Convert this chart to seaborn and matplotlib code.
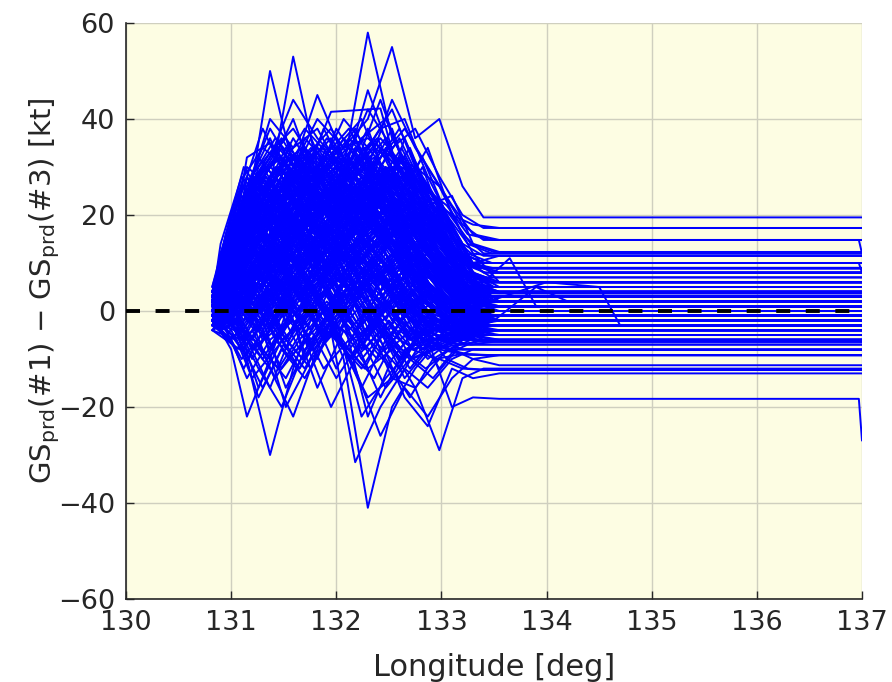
import numpy as np
import pandas as pd
import matplotlib
matplotlib.use("Agg")
import matplotlib.pyplot as plt
import seaborn as sns

# Longitude sample points (deg) shared by the flights of each group
lon_a = [130.82, 131.0, 131.15, 131.37, 131.59, 131.82, 132.07, 132.3, 132.53, 132.75, 132.98, 133.2, 133.4, 137.0]
lon_b = [130.82, 131.08, 131.26, 131.48, 131.7, 131.95, 132.18, 132.42, 132.65, 132.87, 133.1, 133.3, 133.55, 137.0]
lon_c = [130.82, 130.95, 131.12, 131.3, 131.52, 131.76, 132.0, 132.24, 132.47, 132.7, 132.92, 133.15, 133.35, 137.0]
lon_d = [130.82, 131.05, 131.2, 131.42, 131.65, 131.88, 132.12, 132.36, 132.6, 132.82, 133.05, 133.25, 133.48, 137.0]
lon_e = [130.82, 130.9, 131.1, 131.33, 131.55, 131.79, 132.03, 132.27, 132.5, 132.72, 132.95, 133.18, 133.42, 137.0]
lon_f = [130.82, 131.03, 131.22, 131.45, 131.68, 131.91, 132.15, 132.39, 132.62, 132.85, 133.08, 133.28, 133.5, 137.0]

# GS_prd(#1) - GS_prd(#3) [kt] per flight
dgs_a = [
    [2, 12, 32, 35, 28, 22, 18, 25, 15, 10, 6, 3, 2, 2],
    [0, 10, 20, 50, 30, 24, 20, 18, 22, 12, 8, 4, 1, 1],
    [3, 8, 18, 26, 53, 30, 26, 22, 28, 20, 14, 8, 5, 5],
    [-2, 6, 15, 24, 30, 45, 32, 28, 24, 18, 12, 6, 3, 3],
    [1, 9, 22, 30, 26, 34, 30, 58, 36, 28, 20, 12, 8, 8],
    [4, 14, 25, 33, 38, 30, 34, 40, 55, 36, 40, 26, 19.5, 19.5],
    [-1, -8, -22, -10, 4, 10, 6, 2, -5, -8, -4, -2, -1, -1],
    [0, -4, -10, -30, -12, 2, 8, 4, 0, -6, -3, -5, -4, -4],
    [2, -3, -6, -12, -22, -8, 4, 10, 6, 2, -2, 0, 1, 1],
    [-3, -6, -2, 6, 12, 4, -10, -41, -20, -12, -6, -4, -3, -3],
    [1, 4, 8, 14, 10, 2, -8, -18, -14, -16, -29, -14, -12, -12],
    [5, 18, 28, 20, 32, 26, 36, 30, 44, 34, 26, 16, 12, 12],
    [3, 16, 24, 40, 34, 38, 28, 46, 32, 30, 22, 12, 10, 10],
    [-4, 2, 14, 22, 18, 26, 20, 24, 30, 22, 16, 8, 4, 4],
    [2, 6, 10, 18, 26, 20, 30, 22, 26, 30, 18, 9, 6, 6],
    [0, 12, 20, 12, 22, 16, 24, 34, 28, 24, 22, 14, 11.5, 11.5],
    [-2, 4, 6, 10, 14, 24, 18, 20, 16, 26, 12, 4, 0, 0],
    [1, 8, 16, 24, 20, 12, 14, 18, 12, 8, 10, 2, -2, -2],
    [4, 10, 28, 18, 14, 20, 26, 16, 20, 14, 6, 0, -3, -3],
    [-1, 2, 4, 8, 2, 6, 12, 8, 4, 10, 2, -4, -6, -6],
    [3, 14, 26, 36, 24, 32, 22, 28, 38, 24, 18, 10, 8.9, 8.9],
    [0, 6, 12, 16, 8, 14, 22, 12, 18, 6, 2, -1, 0, 0],
    [2, 8, 20, 14, 28, 18, 10, 20, 14, 16, 8, 3, 2, 2],
    [-3, 0, 8, 2, 10, 4, 16, 6, 10, 0, -6, -8, -8, -8],
    [1, 4, 2, -4, 6, 12, 2, 10, -2, 4, -4, -6, -5, -5],
    [-2, -6, -14, -6, -2, -16, -4, -12, -8, -16, -10, -12, -12.3, -12.3],
    [0, 10, 18, 28, 32, 22, 28, 38, 24, 20, 12, 6, 3.7, 3.7],
    [2, -2, 4, 12, 6, -4, 2, -6, 4, -2, -8, -9, -9.2, -9.2],
    [4, 12, 22, 30, 40, 26, 32, 20, 30, 18, 14, 6, 4, 4],
    [-1, 6, 16, 8, 20, 30, 14, 24, 8, 12, 4, 0, 1, 1],
    [1, 2, -6, -16, -4, 8, -2, -22, -10, -4, -12, -6, -3, -3],
    [3, 18, 24, 32, 44, 36, 30, 42, 34, 38, 28, 20, 17.3, 17.3],
    [0, 4, 12, 20, 10, 18, 8, 14, 20, 8, 6, 2, 0, 0],
    [-4, -2, 2, -8, 0, -10, 6, -2, -14, -6, -2, -4, -2, -2],
    [2, 8, 14, 22, 28, 34, 26, 20, 24, 14, 10, 4, 2, 2],
    [1, 16, 26, 38, 30, 40, 34, 36, 32, 26, 20, 12, 10, 10],
    [-2, 4, 10, 4, 16, 10, 20, 14, 8, 14, 4, -2, -4, -4],
    [3, 10, 6, 14, 24, 18, 12, 26, 18, 10, 0, -5, -6.4, -6.4],
    [0, 2, 8, 16, 12, 22, 16, 30, 22, 18, 8, 2, -1, -1],
]
dgs_b = [
    [2, 16, 30, 36, 28, 41.5, 41.8, 42.2, 24, 18, 10, 6, 4, 4],
    [0, 8, 22, 30, 38, 32, 20, 30, 26, 34, 20, 12, 6, 6],
    [-2, -6, -18, -8, -14, -4, -31.5, -20, -12, -16, -10, -8, -8.1, -8.1],
    [1, 4, 12, 26, 34, 22, 30, 38, 40, 28, 18, 8, 5, 5],
    [3, 12, 20, 14, 24, 30, 24, 20, 36, 24, 14, 6, 2, 2],
    [-1, 2, -4, 6, -10, -2, 8, -6, -18, -24, -12, -14, -13, -13],
    [4, 18, 26, 34, 26, 30, 38, 26, 30, 20, 16, 8, 6, 6],
    [0, 6, 16, 22, 14, 8, 18, 24, 16, 12, 6, 2, 1, 1],
    [2, 10, 8, 18, 24, 16, 28, 18, 10, 16, 8, 0, -2, -2],
    [-3, -2, 6, 0, 12, 2, 10, 14, 4, -4, -2, -3, -3, -3],
    [1, 14, 28, 22, 32, 38, 30, 44, 30, 22, 24, 14, 12.3, 12.3],
    [0, 4, 10, 16, 6, 14, 4, 8, 12, 2, -2, -4, -5, -5],
    [2, 12, 24, 18, 26, 20, 34, 28, 20, 14, 6, 3, 3, 3],
    [-4, -8, -2, -12, -6, -20, -10, -4, -14, -8, -6, -5, -4, -4],
    [3, 16, 22, 30, 22, 26, 20, 30, 24, 18, 12, 10, 11.5, 11.5],
    [1, 6, 18, 10, 20, 12, 22, 16, 26, 16, 8, 2, 0, 0],
    [-1, 4, 2, 10, 4, 18, 10, 4, 10, 4, 0, -2, -1, -1],
    [2, 10, 20, 28, 18, 24, 16, 22, 14, 20, 10, 4, 2, 2],
    [0, -4, -12, -20, -8, -2, -12, -26, -16, -22, -14, -10, -11.3, -11.3],
    [4, 20, 32, 26, 30, 36, 28, 32, 38, 30, 22, 16, 14.8, 14.8],
    [1, 8, 14, 8, 16, 22, 14, 18, 10, 6, 2, 1, 2, 2],
    [-2, 0, 8, 14, 6, 10, 2, 12, 6, 0, -4, -6, -6, -6],
    [3, 14, 20, 26, 34, 28, 24, 34, 28, 26, 16, 10, 8, 8],
    [0, 2, 10, 4, 12, 20, 12, 6, 16, 8, 2, -1, -2, -2],
    [2, 12, 18, 24, 30, 20, 26, 20, 22, 14, 10, 6, 4, 4],
    [1, 6, 4, 12, 20, 14, 8, 16, 8, 12, 4, 0, 0, 0],
    [-2, 2, 12, 18, 10, 16, 20, 10, 14, 6, 0, -3, -4, -4],
    [0, 6, 2, -6, -2, 6, -4, 2, -4, -10, -6, -3, -2, -2],
    [2, 10, 16, 28, 20, 14, 22, 28, 18, 16, 8, 4, 3.7, 3.7],
    [-3, 4, 14, 8, 2, 10, 18, 8, 2, -2, -4, -5, -6, -6],
    [1, 12, 22, 18, 28, 22, 14, 24, 20, 10, 6, 2, 1, 1],
    [3, 8, 18, 28, 24, 32, 26, 22, 26, 20, 14, 8, 6, 6],
    [-1, 0, 6, 12, 18, 8, 14, 20, 8, 4, -2, -3, -3, -3],
    [0, 10, 24, 16, 22, 14, 24, 14, 18, 8, 4, 0, -1, -1],
    [2, 14, 8, 20, 14, 28, 20, 12, 22, 12, 6, 2, 1, 1],
    [-2, 2, -2, 4, 14, 4, -4, 6, 0, -6, -8, -10, -9.2, -9.2],
    [4, 18, 28, 32, 26, 34, 30, 36, 30, 24, 20, 18, 17.3, 17.3],
    [0, 6, 12, 20, 28, 18, 24, 16, 12, 10, 4, 0, 1, 1],
]
dgs_c = [
    [0, 6, 14, 4, -6, 2, 10, -2, 6, -4, 0, -2, -1, -1],
    [-2, -6, 2, 10, 0, -8, 4, 12, 2, -6, -2, -4, -3, -3],
    [1, 10, 24, 30, 22, 28, 34, 26, 30, 22, 14, 6, 3, 3],
    [3, 4, -4, -10, -2, 6, -6, -12, -4, 2, -4, -2, 0, 0],
    [-1, 2, 8, 18, 28, 20, 12, 22, 32, 24, 10, 2, -1, -1],
    [2, 8, 2, 12, 4, -4, 8, 0, -8, -2, 2, -1, -2, -2],
    [0, 12, 28, 34, 30, 24, 38, 30, 26, 34, 22, 10, 5, 5],
    [4, 0, -8, -2, -16, -6, 2, -10, -4, -12, -6, -4, -4, -4],
    [-3, 4, 16, 22, 14, 30, 22, 18, 28, 16, 8, 2, 2, 2],
    [1, -2, 6, 0, 8, -2, 14, 6, -2, 8, 0, -3, -5, -5],
    [2, 14, 20, 12, 26, 36, 24, 32, 20, 26, 18, 8, 6, 6],
    [-1, -4, -12, -4, -20, -10, -4, -16, -6, -10, -14, -8, -6, -6],
    [0, 6, 12, 24, 16, 10, 20, 28, 14, 20, 12, 4, 1, 1],
    [3, 2, 10, 2, -6, 4, -4, 6, -6, 0, -2, -2, -1, -1],
    [-2, 8, 18, 10, 20, 14, 26, 18, 24, 12, 6, 0, -2, -2],
    [1, 4, -2, 8, 14, 6, -2, 4, 12, 2, -4, -5, -4, -4],
    [2, 16, 26, 38, 28, 34, 26, 36, 40, 28, 24, 12, 7, 7],
    [0, -6, -4, 4, -8, 0, -12, -2, 6, -4, -8, -6, -5, -5],
    [-1, 10, 20, 16, 24, 18, 10, 16, 22, 14, 4, 0, 0, 0],
    [4, 6, 16, 26, 20, 26, 32, 22, 16, 18, 10, 4, 3, 3],
    [0, 2, -6, 2, 10, 0, 6, -8, 2, -6, -4, -3, -2, -2],
    [2, 12, 8, 16, 10, 22, 16, 10, 18, 6, 2, 1, 1, 1],
    [-3, -2, 4, -6, 2, -4, -14, -6, -16, -10, -8, -7, -7, -7],
    [1, 8, 22, 30, 36, 26, 30, 24, 34, 26, 18, 12, 9, 9],
    [0, 4, 12, 6, 14, 20, 6, 12, 4, 10, 2, -2, -3, -3],
    [3, 10, 4, -4, 4, 12, 20, 8, 0, 6, 0, 1, 2, 2],
    [-2, 2, 10, 16, 8, 2, -6, 4, 10, -2, -6, -4, -4, -4],
    [1, 14, 24, 20, 30, 24, 34, 40, 28, 22, 16, 8, 5, 5],
    [0, -2, 2, -8, -14, -4, 4, -4, -10, -18, -10, -7, -6.4, -6.4],
    [2, 6, 16, 10, 18, 28, 18, 24, 14, 16, 8, 3, 2, 2],
    [-1, 4, 0, 6, -2, 8, 2, -6, 4, -2, -2, -1, 0, 0],
    [3, 12, 22, 28, 20, 16, 26, 20, 30, 20, 12, 6, 4, 4],
    [0, 0, -8, -16, -6, -12, -2, -22, -14, -8, -4, -3, -3, -3],
    [1, 8, 14, 20, 26, 32, 24, 16, 22, 12, 6, 1, 0, 0],
    [-2, 2, 6, 0, 8, 4, 12, 2, -6, 0, -4, -5, -6, -6],
    [2, 10, 18, 26, 16, 24, 18, 28, 24, 30, 20, 10, 6, 6],
    [0, -4, 4, 10, 2, -6, -2, 8, -4, -10, -6, -4, -2, -2],
    [4, 16, 30, 24, 34, 28, 22, 30, 36, 24, 16, 10, 8.9, 8.9],
    [-1, 2, 12, 6, 0, 10, 4, 14, 6, 2, -2, -2, -1, -1],
    [1, 6, 10, 16, 22, 12, 18, 10, 16, 8, 2, 0, 1, 1],
]
dgs_d = [
    [0, 8, 18, 12, 22, 30, 20, 26, 16, 12, 6, 2, 1, 1],
    [-3, 0, -6, 4, -4, 2, -10, -2, -8, -2, -4, -5, -5, -5],
    [2, 14, 26, 32, 24, 38, 28, 34, 30, 22, 18, 10, 7, 7],
    [1, 4, 10, 2, 12, 6, 16, 8, 2, 8, 0, -2, -3, -3],
    [-2, -8, -4, -14, -6, 0, -8, -14, -4, -8, -6, -4, -3, -3],
    [3, 10, 22, 16, 28, 22, 32, 24, 20, 26, 14, 6, 3, 3],
    [0, 2, 8, 14, 6, 18, 10, 4, 14, 6, 0, -1, 0, 0],
    [1, 12, 16, 24, 32, 26, 20, 30, 38, 28, 20, 14, 12, 12],
    [-1, -2, 6, -2, 4, -6, 2, 10, 0, -8, -4, -3, -2, -2],
    [2, 6, 14, 22, 16, 10, 18, 12, 20, 10, 4, 2, 2, 2],
    [0, 16, 28, 22, 30, 34, 26, 22, 28, 18, 12, 5, 4, 4],
    [-4, -6, -14, -8, -2, -12, -6, 0, -10, -4, -8, -9, -9.2, -9.2],
    [2, 4, 0, 8, 16, 10, 4, 12, 6, 14, 6, 0, -1, -1],
    [1, 10, 20, 28, 22, 16, 28, 32, 24, 16, 10, 4, 2, 2],
    [-1, 2, 10, 4, -4, 6, 14, 6, -2, 4, -2, -4, -4, -4],
    [3, 14, 24, 18, 26, 32, 38, 28, 22, 30, 16, 8, 6, 6],
    [0, -2, 4, 12, 4, -2, 8, -4, 2, -6, -2, -2, -1, -1],
    [2, 8, 16, 10, 20, 14, 24, 18, 12, 20, 8, 3, 1, 1],
    [-2, 0, -8, -4, -12, -2, 4, -6, -12, -4, -10, -12, -12.3, -12.3],
    [1, 12, 22, 30, 26, 20, 30, 22, 32, 22, 14, 8, 5, 5],
    [0, 4, 12, 6, 14, 8, 2, 10, 18, 6, 0, -2, -2, -2],
    [3, 8, 4, 12, 2, 10, 18, 12, 6, 12, 4, 0, 0, 0],
    [-1, 6, 18, 26, 34, 24, 18, 26, 20, 14, 8, 2, 1, 1],
    [1, -4, -10, -2, 6, -4, -8, -2, 4, -6, -6, -5, -4, -4],
    [2, 10, 20, 14, 24, 28, 22, 18, 26, 18, 10, 4, 3, 3],
    [0, 6, 2, -4, 8, 14, 4, 10, 2, 6, 2, -1, -1, -1],
    [-2, 4, 14, 20, 12, 22, 14, 24, 16, 10, 4, -2, -3, -3],
    [4, 18, 28, 36, 30, 26, 34, 28, 36, 26, 22, 16, 14.8, 14.8],
    [0, 2, 6, 12, 18, 8, 12, 20, 12, 4, 0, -3, -5, -5],
    [1, 8, 0, 6, -2, 4, -4, 2, -6, -2, -2, 0, 0, 0],
    [-1, 10, 22, 16, 20, 28, 20, 14, 22, 16, 6, 2, 2, 2],
    [2, 0, 4, -6, -12, -4, 2, -8, -14, -6, -8, -8, -8, -8],
    [1, 14, 20, 26, 18, 24, 30, 36, 26, 20, 14, 6, 4, 4],
    [0, 4, 8, 14, 10, 18, 12, 6, 12, 2, -2, -2, -1, -1],
    [3, 6, 14, 8, 18, 10, 16, 24, 14, 18, 8, 3, 2, 2],
    [-2, 2, -2, 6, 0, 12, 6, -2, 4, -4, -6, -6, -6, -6],
    [1, 16, 26, 34, 26, 30, 36, 30, 24, 32, 20, 12, 10, 10],
    [0, 6, 12, 8, 16, 22, 12, 18, 10, 12, 4, 0, -1, -1],
    [2, -2, -6, 2, -8, 0, -10, -4, 2, -8, -4, -4, -3, -3],
    [-1, 8, 16, 22, 28, 18, 24, 16, 20, 10, 6, 3, 3, 3],
]
dgs_e = [
    [1, 4, 14, 24, 18, 26, 14, 22, 28, 18, 10, 4, 2, 2],
    [-2, 0, 6, -4, 4, 12, 2, -6, 4, -2, -6, -4, -3, -3],
    [2, 8, 24, 18, 30, 22, 28, 20, 24, 14, 8, 3, 1, 1],
    [0, 2, -6, 4, 12, 4, -4, 6, 14, 4, 0, -2, -2, -2],
    [3, 6, 18, 28, 20, 14, 24, 30, 18, 22, 12, 6, 4, 4],
    [-1, -2, 4, 10, 0, 8, 16, 4, 10, 0, -4, -5, -5, -5],
    [1, 10, 20, 14, 24, 30, 22, 14, 20, 10, 6, 2, 1, 1],
    [0, -2, -10, -4, 2, -8, -2, 4, -8, -4, -8, -6, -4, -4],
    [2, 6, 12, 20, 28, 18, 26, 34, 24, 18, 10, 4, 2, 2],
    [-3, 0, 8, 2, 10, 18, 8, 14, 6, 12, 2, -2, -3, -3],
    [1, 8, 16, 26, 16, 22, 30, 24, 30, 24, 16, 8, 6, 6],
    [0, 4, 0, -6, 6, 0, 10, -4, 2, -6, -2, -1, 0, 0],
    [2, 12, 26, 20, 28, 34, 26, 30, 22, 16, 10, 6, 4, 4],
    [-1, 2, 10, 16, 8, 14, 4, 12, 18, 8, 2, -1, -1, -1],
    [3, 6, 2, 10, 18, 12, 20, 12, 8, 14, 6, 2, 1, 1],
    [0, -4, -2, -10, -2, 4, -6, -12, -2, -8, -6, -7, -7, -7],
    [1, 10, 22, 30, 24, 18, 28, 22, 26, 20, 12, 6, 3.7, 3.7],
    [-2, 0, 6, 12, 20, 10, 16, 8, 14, 4, -2, -4, -4, -4],
    [2, 4, 12, 6, 14, 22, 14, 20, 12, 8, 4, 1, 0, 0],
    [0, 8, 18, 24, 32, 24, 20, 28, 34, 26, 18, 10, 8, 8],
    [1, 0, -4, 2, -6, 2, 8, 0, -6, 2, -2, -3, -2, -2],
    [-1, 6, 14, 8, 16, 10, 20, 26, 16, 10, 4, 0, -1, -1],
    [3, 12, 20, 28, 22, 30, 24, 18, 26, 20, 14, 8, 6, 6],
    [0, 2, 8, 0, 6, -2, 4, 12, 4, -2, -4, -3, -2, -2],
    [2, 10, 16, 22, 14, 20, 12, 20, 14, 22, 12, 4, 2, 2],
    [-2, -4, 2, 8, -2, -8, 0, -6, 2, -8, -10, -9, -9.2, -9.2],
    [1, 8, 20, 14, 22, 26, 18, 24, 18, 12, 6, 2, 1, 1],
    [0, 4, 10, 18, 10, 4, 14, 8, 16, 6, 0, -2, -2, -2],
    [2, 14, 28, 22, 34, 28, 32, 26, 30, 24, 16, 10, 8.9, 8.9],
    [-1, 0, -6, -2, 8, 2, -4, 2, -4, 4, -2, -1, 0, 0],
    [1, 6, 16, 12, 20, 16, 24, 16, 22, 14, 8, 3, 2, 2],
    [0, 2, 6, 14, 6, 12, 6, 16, 8, 2, -2, -4, -5, -5],
    [3, 10, 18, 26, 30, 22, 28, 32, 26, 28, 18, 12, 10, 10],
    [-2, 2, 4, -2, 4, 10, 0, 6, 0, -4, -6, -5, -4, -4],
    [1, 12, 22, 16, 26, 20, 14, 22, 16, 14, 8, 4, 3, 3],
    [0, 0, 4, 10, 16, 6, 12, 2, 8, 0, -2, -2, -1, -1],
    [2, 6, 14, 22, 16, 26, 20, 26, 20, 16, 10, 4, 3, 3],
    [-1, -2, -8, -2, -10, -4, 2, -8, -2, -10, -8, -6, -6, -6],
    [1, 8, 12, 18, 24, 14, 22, 14, 18, 10, 4, 1, 1, 1],
    [0, 4, 16, 10, 4, 12, 18, 10, 4, 8, 2, 0, 0, 0],
]
dgs_f = [
    [1, 10, 20, 26, 20, 28, 22, 28, 20, 14, 8, 2, 1, 1],
    [-1, 2, -4, 2, 8, -2, 6, -2, 4, -4, -4, -3, -3, -3],
    [2, 14, 24, 18, 28, 22, 30, 24, 28, 20, 12, 6, 4, 4],
    [0, 4, 10, 4, 14, 8, 2, 12, 6, 0, -2, -1, 0, 0],
    [3, 8, 16, 24, 32, 26, 20, 26, 32, 22, 14, 8, 6, 6],
    [-2, -4, 0, 6, -2, 4, -6, -2, 6, -2, -6, -5, -5, -5],
    [1, 12, 18, 12, 20, 26, 18, 14, 20, 12, 6, 2, 2, 2],
    [0, 2, 8, 14, 8, 16, 10, 18, 10, 6, 0, -2, -1, -1],
    [2, 16, 28, 22, 30, 24, 32, 28, 22, 26, 18, 10, 8, 8],
    [-1, 0, 4, -4, -10, -2, 4, -4, -10, -4, -6, -7, -6.4, -6.4],
    [1, 6, 14, 20, 14, 22, 16, 22, 16, 10, 4, 0, 0, 0],
    [0, 8, 4, 10, 18, 10, 16, 8, 14, 8, 2, 1, 2, 2],
    [3, 12, 22, 30, 24, 34, 28, 24, 32, 24, 16, 8, 5, 5],
    [-2, 2, 8, 2, 10, 4, 10, 2, -4, 2, -2, -3, -2, -2],
    [1, 8, 18, 12, 22, 16, 26, 18, 12, 16, 8, 2, 1, 1],
    [0, -2, -8, -2, 4, -4, -10, -2, -8, -12, -8, -6, -6, -6],
    [2, 10, 16, 24, 18, 12, 20, 26, 20, 14, 10, 4, 3, 3],
    [-1, 4, 12, 6, 0, 8, 14, 6, 12, 4, -2, -2, -2, -2],
    [1, 14, 26, 32, 26, 22, 30, 36, 26, 20, 14, 10, 8, 8],
    [0, 2, 2, 10, 4, 14, 6, 0, 8, -2, -4, -4, -4, -4],
    [2, 8, 14, 20, 26, 18, 24, 18, 24, 16, 10, 4, 2, 2],
    [-2, 0, 6, 0, 8, 0, 6, 12, 2, 6, 0, -2, -1, -1],
    [1, 10, 24, 18, 26, 30, 22, 28, 22, 18, 12, 6, 4, 4],
    [0, 4, -2, 6, 12, 4, 10, 4, -2, 4, -2, -3, -3, -3],
    [3, 12, 18, 26, 20, 26, 34, 24, 28, 22, 16, 12, 11.5, 11.5],
    [-1, 2, 10, 16, 10, 18, 8, 14, 8, 0, -4, -5, -6, -6],
    [1, 6, 12, 8, 16, 10, 18, 12, 18, 10, 4, 1, 0, 0],
    [0, -2, -6, -12, -4, 2, -4, -10, -2, -6, -8, -8, -8.1, -8.1],
    [2, 16, 22, 30, 34, 26, 28, 22, 30, 26, 20, 14, 12.3, 12.3],
    [-1, 4, 8, 2, 10, 16, 10, 16, 10, 2, -2, -2, -1, -1],
    [1, 8, 20, 16, 22, 14, 22, 16, 20, 12, 6, 2, 1, 1],
    [0, 2, 6, 12, 4, 10, 4, 8, 2, -4, -6, -4, -2, -2],
    [2, 10, 20, 26, 20, 30, 24, 30, 24, 18, 12, 6, 5, 5],
    [-2, -2, 2, -6, 2, -6, 2, -4, -10, -4, -4, -4, -3, -3],
    [1, 12, 16, 22, 14, 22, 26, 20, 16, 20, 10, 4, 2, 2],
    [0, 6, 14, 8, 14, 6, 12, 20, 12, 6, 2, 0, 0, 0],
    [3, 14, 26, 34, 28, 36, 30, 26, 34, 24, 18, 10, 8.9, 8.9],
    [-1, 0, 8, 4, 12, 18, 8, 2, 8, 2, -2, -3, -4, -4],
    [1, 8, 16, 22, 30, 20, 16, 24, 16, 10, 6, 2, 1, 1],
    [0, 2, 4, -2, 6, 0, 8, 2, 8, 0, -2, -1, -1, -1],
]

# Flights with their own sample points (late turns, or a jump at 137 deg)
lon_x = [
    [130.82, 131.2, 131.6, 132.0, 132.5, 133.0, 133.3, 133.65, 133.9, 137.0],
    [130.82, 131.3, 131.9, 132.6, 133.1, 133.45, 134.0, 134.5, 134.7, 137.0],
    [130.82, 131.1, 131.5, 132.1, 132.7, 133.2, 133.5, 133.9, 134.2, 137.0],
    [130.82, 131.0, 131.15, 131.37, 131.59, 131.82, 132.07, 132.3, 132.53, 132.75, 132.98, 133.2, 133.4, 136.97, 137.0],
    [130.82, 131.08, 131.26, 131.48, 131.7, 131.95, 132.18, 132.42, 132.65, 132.87, 133.1, 133.3, 133.55, 136.97, 137.0],
    [130.82, 131.08, 131.26, 131.48, 131.7, 131.95, 132.18, 132.42, 132.65, 132.87, 133.1, 133.3, 133.55, 136.97, 137.0],
]
dgs_x = [
    [1, 20, 14, 26, 18, 8, 4, 11, 1, 1],
    [-1, 10, 24, 16, 10, 2, 6, 5, -3, -3],
    [2, 6, 18, 12, 22, 10, -2, 5, 2, 2],
    [5, 20, 30, 26, 36, 28, 40, 34, 42, 30, 26, 18, 14.8, 14.8, 12],
    [-1, -4, -16, -6, -12, -2, -6, -18, -8, -6, -20, -18, -18.3, -18.3, -27],
    [4, 16, 26, 20, 36, 30, 36, 26, 32, 22, 18, 10, 10, 10, 8],
]

# Long-format table: one row per (flight, sample)
rows = []
fid = 0
for lons, groups in ((lon_a, dgs_a), (lon_b, dgs_b), (lon_c, dgs_c),
                     (lon_d, dgs_d), (lon_e, dgs_e), (lon_f, dgs_f)):
    for vals in groups:
        rows += [(fid, lo, v) for lo, v in zip(lons, vals)]
        fid += 1
for lons, vals in zip(lon_x, dgs_x):
    rows += [(fid, lo, v) for lo, v in zip(lons, vals)]
    fid += 1
df = pd.DataFrame(rows, columns=["flight", "lon", "dgs"])

sns.set_theme(style="ticks")
plt.rcParams["font.family"] = ["DejaVu Sans"]
plt.rcParams["mathtext.fontset"] = "dejavusans"

fig = plt.figure(figsize=(8.92, 6.82), dpi=100)
ax = fig.add_axes([126 / 892, 1 - 599 / 682, (862 - 126) / 892, (599 - 23) / 682])
ax.set_facecolor("#fdfde3")

sns.lineplot(data=df, x="lon", y="dgs", units="flight", estimator=None,
             sort=False, color="#0000ff", linewidth=1.4, ax=ax, zorder=2)
ax.axhline(0, color="black", linestyle=(0, (3.6, 4.0)), linewidth=2.8, zorder=3)

ax.set_xlim(130, 137)
ax.set_ylim(-60, 60)
ax.set_xticks(range(130, 138))
ax.set_yticks(range(-60, 61, 20))
ax.grid(True, color="#cfcfbf", linewidth=1.0, zorder=0)
ax.set_axisbelow(True)

for s in ("top", "right"):
    ax.spines[s].set_visible(False)
for s in ("left", "bottom"):
    ax.spines[s].set_color("#262626")
    ax.spines[s].set_linewidth(1.2)
ax.tick_params(direction="in", length=6, width=1.0, colors="#262626",
               labelsize=19.5, pad=8)

ax.set_xlabel("Longitude [deg]", fontsize=22, color="#262626")
ax.set_ylabel(r"GS$_{\mathrm{prd}}$(#1) $-$ GS$_{\mathrm{prd}}$(#3) [kt]",
              fontsize=21, color="#262626")
ax.xaxis.set_label_coords(0.5, -0.094)
ax.yaxis.set_label_coords(-0.087, 0.536)

fig.savefig("out.png", dpi=100)
